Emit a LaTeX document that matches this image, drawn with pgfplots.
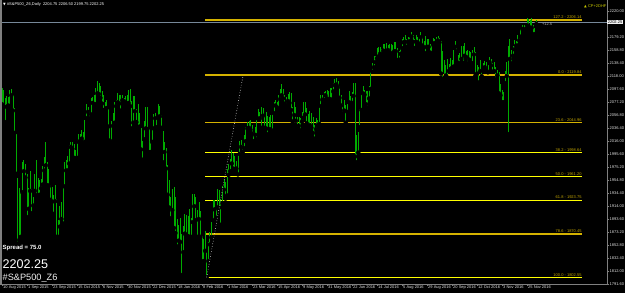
\documentclass[border=0pt]{standalone}
\usepackage{pgfplots}
\pgfplotsset{compat=1.18}
\usepackage{pgfplotstable}
\usepackage{fontspec}
\setmainfont{Liberation Sans}
\newfontfamily\dejavu{DejaVu Sans}
\newcommand{\tf}{\fontsize{4}{4.8}\selectfont}
\definecolor{bargreen}{RGB}{0,172,0}
\definecolor{fibgold}{RGB}{212,178,0}
\definecolor{fibyellow}{RGB}{255,255,0}
\definecolor{fibtext}{RGB}{195,165,0}
\definecolor{bidgray}{RGB}{119,136,153}
\definecolor{lbl}{RGB}{225,225,225}

\pgfplotstableread{
i h l
0 2099 2074
1 2097 2070
2 2083 2046
3 2087 2070
4 2086 2072
5 2096 2071
6 2098 2088
7 2089 2064
8 2068 2029
9 2028 1965
10 1959 1855
11 1943 1861
12 1937 1866
13 1983 1936
14 1987 1969
15 1980 1959
16 1964 1897
17 1942 1910
18 1969 1938
19 1941 1903
20 1929 1915
21 1964 1938
22 1987 1931
23 1959 1931
24 1955 1932
25 1956 1942
26 1977 1948
27 1991 1970
28 2014 1978
29 1983 1947
30 1973 1946
31 1948 1924
32 1944 1921
33 1932 1902
34 1947 1922
35 1925 1866
36 1893 1866
37 1914 1882
38 1921 1894
39 1945 1887
40 1983 1945
41 1986 1970
42 1993 1970
43 2010 1981
44 2014 2007
45 2014 2004
46 2011 1990
47 2003 1985
48 2018 1990
49 2028 2015
50 2028 2016
51 2033 2020
52 2031 2011
53 2049 2015
54 2074 2052
55 2069 2062
56 2064 2052
57 2084 2058
58 2086 2076
59 2088 2073
60 2099 2074
61 2110 2091
62 2108 2090
63 2102 2084
64 2094 2075
65 2089 2065
66 2077 2063
67 2080 2068
68 2066 2039
69 2039 2017
70 2047 2014
71 2060 2040
72 2078 2045
73 2081 2071
74 2091 2077
75 2089 2075
76 2088 2064
77 2088 2080
78 2084 2079
79 2087 2076
80 2088 2074
81 2097 2076
82 2098 2071
83 2079 2036
84 2087 2045
85 2087 2063
86 2067 2046
87 2074 2037
88 2061 2039
89 2036 2003
90 2016 1987
91 2047 2019
92 2070 2036
93 2070 2035
94 2035 1999
95 2016 1999
96 2033 2015
97 2058 2036
98 2061 2052
99 2051 2038
100 2075 2054
101 2071 2055
102 2057 2037
103 2032 1983
104 2015 1999
105 2006 1973
106 1979 1932
107 1955 1912
108 1929 1895
109 1941 1908
110 1944 1880
111 1928 1872
112 1894 1851
113 1884 1860
114 1895 1858
115 1870 1806
116 1883 1842
117 1902 1871
118 1900 1869
119 1899 1867
120 1910 1866
121 1896 1866
122 1934 1889
123 1934 1914
124 1929 1892
125 1908 1866
126 1921 1894
127 1907 1866
128 1867 1822
129 1862 1828
130 1875 1844
131 1843 1802.55
132 1858 1828
133 1874 1854
134 1889 1865
135 1924 1892
136 1924 1909
137 1912 1896
138 1941 1912
139 1940 1912
140 1926 1885
141 1945 1919
142 1956 1940
143 1952 1926
144 1972 1931
145 1980 1963
146 1988 1969
147 2003 1981
148 1997 1973
149 1993 1972
150 1985 1973
151 1999 1964
152 2016 1996
153 2018 2007
154 2010 1999
155 2026 2005
156 2038 2016
157 2046 2036
158 2047 2037
159 2050 2034
160 2042 2028
161 2030 2016
162 2038 2026
163 2050 2019
164 2066 2051
165 2062 2052
166 2069 2037
167 2068 2056
168 2056 2037
169 2062 2036
170 2056 2027
171 2054 2035
172 2057 2034
173 2060 2032
174 2077 2060
175 2081 2072
176 2077 2069
177 2089 2067
178 2098 2082
179 2105 2088
180 2098 2083
181 2088 2075
182 2085 2071
183 2090 2079
184 2093 2076
185 2091 2065
186 2070 2047
187 2078 2057
188 2069 2048
189 2054 2039
190 2054 2040
191 2052 2033
192 2062 2047
193 2078 2053
194 2077 2058
195 2068 2044
196 2059 2039
197 2064 2041
198 2061 2037
199 2054 2029
200 2042 2020
201 2053 2035
202 2050 2041
203 2073 2043
204 2088 2071
205 2088 2081
206 2093 2081
207 2094 2088
208 2097 2083
209 2094 2079
210 2099 2082
211 2099 2079
212 2107 2094
213 2113 2104
214 2115 2105
215 2111 2101
216 2103 2084
217 2089 2072
218 2075 2059
219 2081 2064
220 2073 2045
221 2075 2062
222 2095 2077
223 2087 2076
224 2093 2076
225 2107 2087
226 2107 1992
227 2026 1983
228 2030 1998
229 2066 2038
230 2092 2065
231 2103 2091
232 2097 2089
233 2094 2074
234 2095 2068
235 2103 2083
236 2125 2098
237 2138 2125
238 2149 2132
239 2150 2140
240 2162 2146
241 2163 2149
242 2163 2153
243 2160 2150
244 2169 2158
245 2168 2153
246 2170 2157
247 2167 2159
248 2168 2155
249 2168 2153
250 2167 2154
251 2171 2157
252 2172 2157
253 2162 2143
254 2158 2144
255 2162 2153
256 2177 2162
257 2179 2171
258 2182 2172
259 2177 2164
260 2180 2171
261 2180 2173
262 2187 2180
263 2182 2172
264 2177 2162
265 2182 2172
266 2179 2169
267 2179 2169
268 2187 2179
269 2180 2166
270 2173 2163
271 2181 2154
272 2177 2164
273 2176 2164
274 2169 2155
275 2167 2151
276 2178 2167
277 2176 2170
278 2180 2169
279 2181 2174
280 2178 2171
281 2173 2122
282 2157 2113
283 2144 2115
284 2135 2119
285 2145 2116
286 2137 2126
287 2147 2129
288 2143 2131
289 2159 2133
290 2173 2164
291 2166 2157
292 2152 2139
293 2155 2135
294 2166 2145
295 2166 2139
296 2170 2150
297 2158 2148
298 2159 2138
299 2157 2144
300 2156 2139
301 2159 2138
302 2164 2152
303 2156 2119
304 2136 2122
305 2132 2108
306 2143 2126
307 2129 2118
308 2138 2129
309 2142 2132
310 2141 2127
311 2136 2124
312 2148 2140
313 2145 2135
314 2139 2125
315 2141 2126
316 2133 2113
317 2127 2119
318 2125 2091
319 2106 2088
320 2096 2077
321 2093 2077
322 2126 2107
323 2140 2118
324 2165 2027
325 2176 2145
326 2159 2138
327 2166 2150
328 2174 2160
329 2173 2166
330 2182 2166
331 2183 2174
332 2192 2180
333 2198 2192
334 2198 2187
335 2198 2192
336 2210 2198
337 2207 2196
338 2206 2194
339 2210 2194
340 2199 2183
341 2193 2184
342 2206.5 2199.75
}\bars

\begin{document}
\begin{tikzpicture}
\useasboundingbox (0pt,0pt) rectangle (625pt,293pt);
\fill[black] (0pt,0pt) rectangle (625pt,293pt);
\begin{axis}[
  at={(1pt,8.5pt)}, anchor=south west,
  scale only axis, width=606pt, height=284.5pt,
  xmin=-0.64, xmax=387.2, ymin=1791.3, ymax=2237.47,
  axis line style={draw=none},
  xtick={0,16,...,336},
  xticklabels={10 Aug 2015,1 Sep 2015,23 Sep 2015,15 Oct 2015,6 Nov 2015,30 Nov 2015,22 Dec 2015,18 Jan 2016,8 Feb 2016,1 Mar 2016,23 Mar 2016,15 Apr 2016,9 May 2016,31 May 2016,22 Jun 2016,14 Jul 2016,5 Aug 2016,29 Aug 2016,20 Sep 2016,12 Oct 2016,3 Nov 2016,25 Nov 2016},
  xtick pos=bottom, ytick pos=right,
  ytick={1791.6,1812,1832.4,1852.8,1873.2,1893.6,1914,1934.4,1954.8,1975.2,1995.6,2016,2036.4,2056.8,2077.2,2097.6,2118,2138.4,2158.8,2179.2,2220},
  tick align=outside, major tick length=1.8pt,
  every tick/.style={gray, line width=0.4pt},
  xticklabel style={anchor=north west, font=\tf, text=lbl, inner sep=0.4pt, xshift=0.6pt, yshift=1.2pt},
  yticklabel style={anchor=west, font=\tf, text=lbl, inner sep=0.4pt, xshift=0.2pt},
  /pgf/number format/assume math mode=true,
  yticklabel={\pgfmathprintnumber[fixed,fixed zerofill,precision=2,1000 sep={}]{\tick}},
  clip mode=individual,
]
% bid line
\addplot[bidgray, line width=0.5pt, forget plot] coordinates {(-0.64,2202.25) (387.2,2202.25)};
% fibonacci levels
\addplot[fibgold, line width=1.4pt, forget plot] coordinates {(130,2206.14) (371.2,2206.14)};
\addplot[fibgold, line width=1.4pt, forget plot] coordinates {(130,2119.84) (371.2,2119.84)};
\addplot[fibgold, line width=1.4pt, forget plot] coordinates {(130,2044.96) (371.2,2044.96)};
\addplot[fibyellow, line width=1pt, forget plot] coordinates {(130,1998.64) (371.2,1998.64)};
\addplot[fibyellow, line width=1pt, forget plot] coordinates {(130,1961.20) (371.2,1961.20)};
\addplot[fibyellow, line width=1pt, forget plot] coordinates {(130,1923.75) (371.2,1923.75)};
\addplot[fibgold, line width=1.4pt, forget plot] coordinates {(130,1870.45) (371.2,1870.45)};
\addplot[fibyellow, line width=1pt, forget plot] coordinates {(130,1802.55) (371.2,1802.55)};
% price bars
\addplot[only marks, mark=none, forget plot,
  error bars/.cd, y dir=plus, y explicit, error mark=none,
  error bar style={draw=bargreen, line width=0.75pt}]
  table[x=i, y=l, y error expr=\thisrow{h}-\thisrow{l}] {\bars};
% fibo base line
\addplot[white!75!gray, dotted, line width=0.6pt, forget plot] coordinates {(131,1802.55) (154.2,2118)};
% fib labels
\foreach \v/\t in {2206.14/127.2 - 2206.14, 2119.84/0.0 - 2119.84, 2044.96/23.6 - 2044.96, 1998.64/38.2 - 1998.64, 1961.20/50.0 - 1961.20, 1923.75/61.8 - 1923.75, 1870.45/78.6 - 1870.45, 1802.55/100.0 - 1802.55}{
  \edef\temp{\noexpand\node[anchor=south east, font=\noexpand\tf, text=fibtext, inner sep=0.3pt, yshift=0.6pt] at (axis cs:371.2,\v) {\t};}
  \temp
}
% frame
\draw[gray, line width=0.5pt] (rel axis cs:1,1) -- (rel axis cs:1,0) -- (rel axis cs:0,0);
\draw[gray, line width=1.2pt] (rel axis cs:0,0) -- (rel axis cs:0,1);
% current price box
\node[fill=white!90!gray, text=black, font=\tf, inner sep=0.6pt, anchor=west] at (axis cs:387.2,2202.25) {2202.25};
\node[anchor=west, font=\tf, text=gray!60!white, inner sep=0pt] at (axis cs:345.5,2199) {+12.5};
\end{axis}
% header and info texts
\node[anchor=west, font=\tf, text=white, inner sep=0pt] at (3pt,289pt) {{\dejavu\fontsize{3.5}{4}\selectfont ▼} \#S\&P500\_Z6,Daily\ \ 2204.75 2206.50 2199.75 2202.25};
\node[anchor=west, font=\tf, text={rgb,255:red,200;green,200;blue,0}, inner sep=0pt] at (584pt,287pt) {{\dejavu\fontsize{3.5}{4}\selectfont ▲} CP+2DHF};
\node[anchor=west, font=\fontsize{6}{7}\selectfont\bfseries, text=white, inner sep=0pt] at (2.5pt,45.5pt) {Spread = 75.0};
\node[anchor=base west, font=\fontsize{12.6}{14}\selectfont, text=white, inner sep=0pt] at (2.5pt,25pt) {2202.25};
\node[anchor=base west, font=\fontsize{9.2}{11}\selectfont, text=white!90!gray, inner sep=0pt] at (2.5pt,13pt) {\#S\&P500\_Z6};
\end{tikzpicture}
\end{document}
